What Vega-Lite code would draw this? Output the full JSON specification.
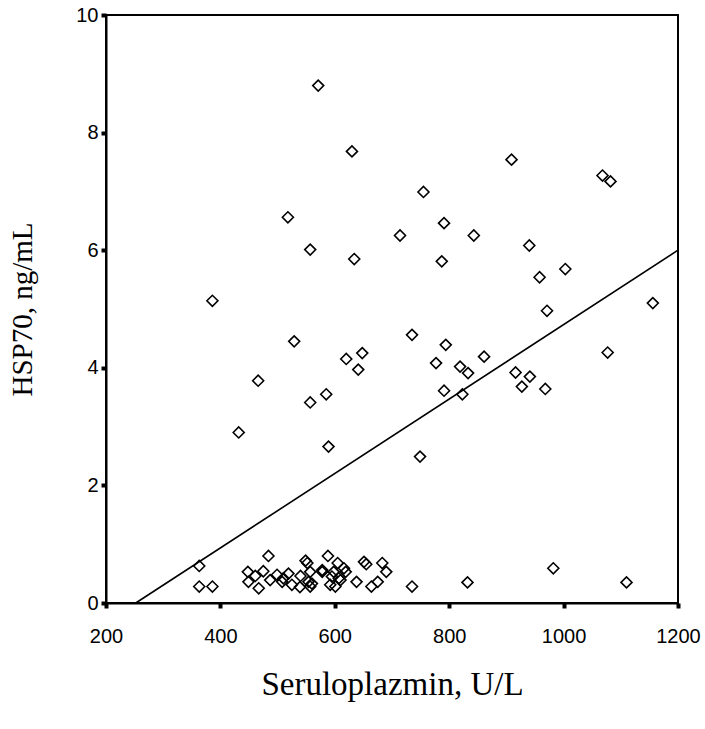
{
  "$schema": "https://vega.github.io/schema/vega-lite/v6.json",
  "autosize": "none",
  "width": 572,
  "height": 588,
  "padding": {"left": 106, "top": 15, "right": 27, "bottom": 126},
  "background": "white",
  "datasets": {
    "pts": [
      {"ser": 571, "hsp": 8.80}, {"ser": 630, "hsp": 7.68}, {"ser": 518, "hsp": 6.56}, {"ser": 557, "hsp": 6.01},
      {"ser": 634, "hsp": 5.85}, {"ser": 386, "hsp": 5.14}, {"ser": 529, "hsp": 4.45}, {"ser": 648, "hsp": 4.25},
      {"ser": 620, "hsp": 4.15}, {"ser": 641, "hsp": 3.97}, {"ser": 466, "hsp": 3.78}, {"ser": 585, "hsp": 3.55},
      {"ser": 557, "hsp": 3.41}, {"ser": 432, "hsp": 2.90}, {"ser": 589, "hsp": 2.66}, {"ser": 909, "hsp": 7.54},
      {"ser": 1068, "hsp": 7.27}, {"ser": 1082, "hsp": 7.17}, {"ser": 755, "hsp": 6.99}, {"ser": 791, "hsp": 6.46},
      {"ser": 714, "hsp": 6.25}, {"ser": 843, "hsp": 6.25}, {"ser": 940, "hsp": 6.08}, {"ser": 787, "hsp": 5.81},
      {"ser": 1003, "hsp": 5.68}, {"ser": 958, "hsp": 5.54}, {"ser": 1156, "hsp": 5.10}, {"ser": 971, "hsp": 4.97},
      {"ser": 735, "hsp": 4.56}, {"ser": 794, "hsp": 4.39}, {"ser": 861, "hsp": 4.19}, {"ser": 1077, "hsp": 4.26},
      {"ser": 777, "hsp": 4.08}, {"ser": 819, "hsp": 4.02}, {"ser": 833, "hsp": 3.91}, {"ser": 916, "hsp": 3.92},
      {"ser": 941, "hsp": 3.85}, {"ser": 927, "hsp": 3.68}, {"ser": 968, "hsp": 3.64}, {"ser": 791, "hsp": 3.61},
      {"ser": 823, "hsp": 3.55}, {"ser": 749, "hsp": 2.49},
      {"ser": 363, "hsp": 0.63}, {"ser": 363, "hsp": 0.28}, {"ser": 386, "hsp": 0.28}, {"ser": 484, "hsp": 0.80},
      {"ser": 448, "hsp": 0.53}, {"ser": 449, "hsp": 0.36}, {"ser": 461, "hsp": 0.46}, {"ser": 475, "hsp": 0.54},
      {"ser": 467, "hsp": 0.25}, {"ser": 487, "hsp": 0.39}, {"ser": 499, "hsp": 0.48}, {"ser": 508, "hsp": 0.36},
      {"ser": 519, "hsp": 0.50}, {"ser": 525, "hsp": 0.31}, {"ser": 540, "hsp": 0.46}, {"ser": 539, "hsp": 0.27},
      {"ser": 549, "hsp": 0.72}, {"ser": 552, "hsp": 0.68}, {"ser": 554, "hsp": 0.36}, {"ser": 557, "hsp": 0.53},
      {"ser": 557, "hsp": 0.28}, {"ser": 578, "hsp": 0.53}, {"ser": 588, "hsp": 0.80}, {"ser": 592, "hsp": 0.31},
      {"ser": 598, "hsp": 0.53}, {"ser": 601, "hsp": 0.28}, {"ser": 605, "hsp": 0.68}, {"ser": 610, "hsp": 0.39},
      {"ser": 616, "hsp": 0.59}, {"ser": 638, "hsp": 0.36}, {"ser": 651, "hsp": 0.70}, {"ser": 655, "hsp": 0.66},
      {"ser": 664, "hsp": 0.28}, {"ser": 675, "hsp": 0.36}, {"ser": 683, "hsp": 0.68}, {"ser": 690, "hsp": 0.53},
      {"ser": 735, "hsp": 0.28}, {"ser": 832, "hsp": 0.35}, {"ser": 982, "hsp": 0.59}, {"ser": 1110, "hsp": 0.35},
      {"ser": 560, "hsp": 0.33}, {"ser": 595, "hsp": 0.45}, {"ser": 607, "hsp": 0.42}, {"ser": 619, "hsp": 0.53},
      {"ser": 578, "hsp": 0.56}, {"ser": 510, "hsp": 0.42}
    ],
    "fit": [
      {"ser": 252, "hsp": 0},
      {"ser": 1200, "hsp": 6.0}
    ]
  },
  "layer": [
    {
      "data": {"name": "pts"},
      "mark": {"type": "point", "shape": "diamond", "filled": false, "stroke": "black", "strokeWidth": 1.6, "size": 121, "opacity": 1},
      "encoding": {
        "x": {"field": "ser", "type": "quantitative", "scale": {"domain": [200, 1200], "nice": false, "zero": false},
              "axis": {"title": "Seruloplazmin, U/L", "values": [200, 400, 600, 800, 1000, 1200], "format": "d"}},
        "y": {"field": "hsp", "type": "quantitative", "scale": {"domain": [0, 10], "nice": false},
              "axis": {"title": "HSP70, ng/mL", "values": [0, 2, 4, 6, 8, 10], "format": "d"}}
      }
    },
    {
      "data": {"name": "fit"},
      "mark": {"type": "line", "color": "black", "strokeWidth": 1.6},
      "encoding": {
        "x": {"field": "ser", "type": "quantitative"},
        "y": {"field": "hsp", "type": "quantitative"}
      }
    }
  ],
  "config": {
    "view": {"stroke": "black", "strokeWidth": 2},
    "axis": {
      "grid": false,
      "domainColor": "black",
      "domainWidth": 2,
      "tickColor": "black",
      "tickSize": 5,
      "tickWidth": 4,
      "labelFont": "Liberation Sans",
      "labelFontSize": 20,
      "labelColor": "black",
      "titleFont": "Liberation Serif",
      "titleFontWeight": "normal",
      "titleColor": "black",
      "labelOverlap": false,
      "labelFlush": false
    },
    "axisX": {"labelPadding": 18, "titlePadding": 22, "titleFontSize": 33},
    "axisY": {"labelPadding": 3, "titlePadding": 38, "titleFontSize": 29}
  }
}
